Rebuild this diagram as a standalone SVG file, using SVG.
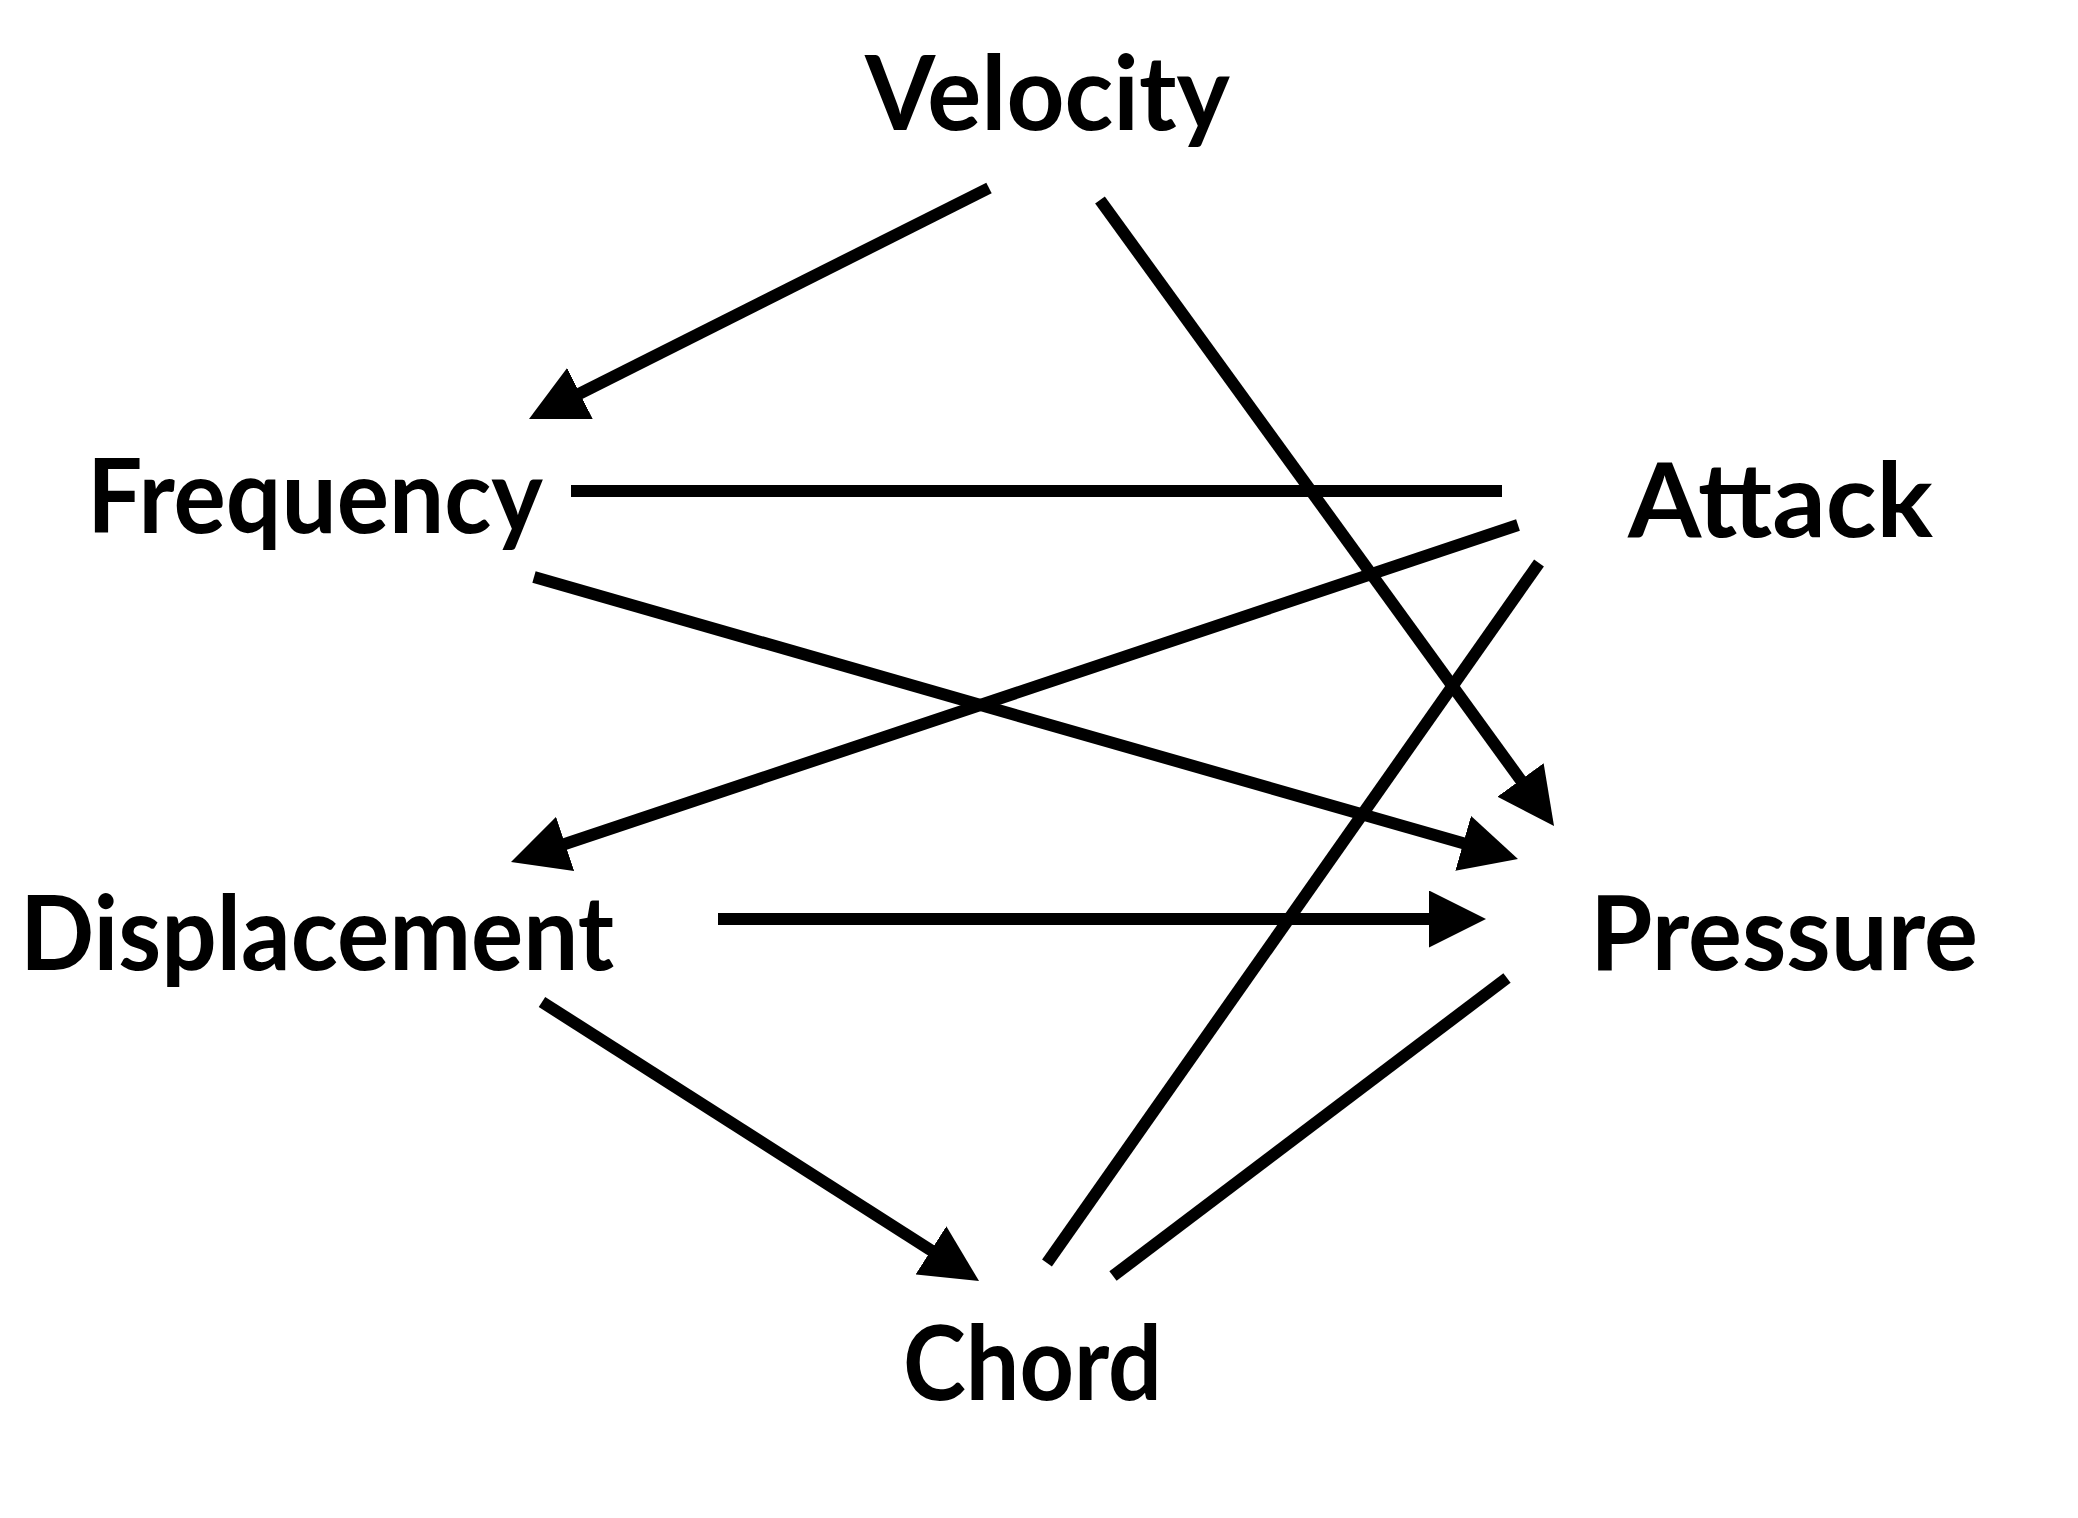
<svg xmlns="http://www.w3.org/2000/svg" width="2078" height="1518" viewBox="0 0 2078 1518">
<style>
  .lbl { font-family: "Comic Sans MS", "Lato", "DejaVu Sans", sans-serif; font-weight: bold; font-size: 104px; fill: #000; }
  .edge { stroke: #000; stroke-width: 12; fill: none; stroke-linecap: butt; }
</style>
<defs>
  <marker id="arrow" viewBox="0 0 57 57" refX="12" refY="28.5" markerWidth="57" markerHeight="57" markerUnits="userSpaceOnUse" orient="auto">
    <path d="M0,0 L57,28.5 L0,57 Z" fill="#000"/>
  </marker>
</defs>
<rect width="2078" height="1518" fill="#fff"/>
<g id="connectors">
  <line class="edge" x1="989" y1="188" x2="569.2" y2="398.8" marker-end="url(#arrow)"/>
  <line class="edge" x1="1100" y1="200" x2="1527.6" y2="789.6" marker-end="url(#arrow)"/>
  <line class="edge" x1="571" y1="491" x2="1502" y2="491"/>
  <line class="edge" x1="534" y1="577" x2="1474.7" y2="846.6" marker-end="url(#arrow)"/>
  <line class="edge" x1="1518" y1="525" x2="553.7" y2="847.7" marker-end="url(#arrow)"/>
  <line class="edge" x1="1539" y1="563" x2="1047" y2="1263"/>
  <line class="edge" x1="718" y1="919" x2="1441" y2="919" marker-end="url(#arrow)"/>
  <line class="edge" x1="542" y1="1002" x2="941.1" y2="1256.8" marker-end="url(#arrow)"/>
  <line class="edge" x1="1507" y1="978" x2="1113" y2="1276"/>
</g>
<g id="node-velocity"><text class="lbl" x="865" y="130" textLength="365" lengthAdjust="spacingAndGlyphs">Velocity</text></g>
<g id="node-frequency"><text class="lbl" x="87" y="533" textLength="456" lengthAdjust="spacingAndGlyphs">Frequency</text></g>
<g id="node-attack"><text class="lbl" x="1628" y="537" textLength="305" lengthAdjust="spacingAndGlyphs">Attack</text></g>
<g id="node-displacement"><text class="lbl" x="20" y="970" textLength="594" lengthAdjust="spacingAndGlyphs">Displacement</text></g>
<g id="node-pressure"><text class="lbl" x="1590" y="970" textLength="388" lengthAdjust="spacingAndGlyphs">Pressure</text></g>
<g id="node-chord"><text class="lbl" x="903" y="1400" textLength="259" lengthAdjust="spacingAndGlyphs">Chord</text></g>
</svg>
